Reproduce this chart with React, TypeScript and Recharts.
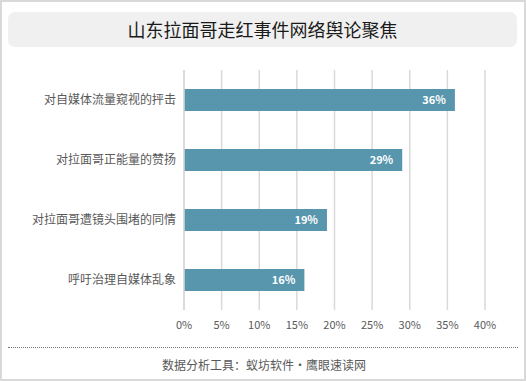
import { BarChart, Bar, XAxis, YAxis, CartesianGrid, LabelList } from 'recharts';

const categories = ['对自媒体流量窥视的抨击', '对拉面哥正能量的赞扬', '对拉面哥遭镜头围堵的同情', '呼吁治理自媒体乱象'];
const shares = [36, 29, 19, 16];
const xTicks = [0, 5, 10, 15, 20, 25, 30, 35, 40];

const FONT = '"Noto Sans CJK SC", "Noto Sans", sans-serif';
const BAR_COLOR = '#5896ad';
const GRID = '#d9d9d9';

const data = categories.map((name, i) => ({ name, value: shares[i] }));

export default function App() {
  return (
    <div
      style={{
        position: 'absolute',
        left: 0,
        top: 0,
        width: 526,
        height: 381,
        boxSizing: 'border-box',
        border: `2px solid ${GRID}`,
        background: '#fff',
        fontFamily: FONT,
      }}
    >
      <div
        style={{
          position: 'absolute',
          left: 6,
          top: 10,
          width: 509,
          height: 35,
          borderRadius: 7,
          background: '#f0f0f0',
          color: '#1a1a1a',
          fontSize: 18,
          lineHeight: '35px',
          textAlign: 'center',
        }}
      >
        山东拉面哥走红事件网络舆论聚焦
      </div>
      <div style={{ position: 'absolute', left: -2, top: -2 }}>
        <BarChart
          width={526}
          height={381}
          data={data}
          layout="vertical"
          margin={{ top: 70, right: 41, bottom: 41, left: 4 }}
          barSize={22}
        >
          <CartesianGrid horizontal={false} stroke={GRID} strokeWidth={1.5} />
          <XAxis
            type="number"
            domain={[0, 40]}
            ticks={xTicks}
            tickFormatter={(v) => `${v}%`}
            axisLine={false}
            tickLine={false}
            tickMargin={5}
            height={30}
            tick={{ fontSize: 11, fill: '#595959', fontFamily: FONT }}
          />
          <YAxis
            type="category"
            dataKey="name"
            width={180}
            axisLine={{ stroke: GRID, strokeWidth: 1.5 }}
            tickLine={false}
            tick={{ fontSize: 12, fill: '#595959', fontFamily: FONT }}
          />
          <Bar dataKey="value" fill={BAR_COLOR} isAnimationActive={false}>
            <LabelList
              dataKey="value"
              position="insideRight"
              offset={9}
              formatter={(v: number) => `${v}%`}
              style={{ fill: '#fff', fontSize: 11, fontWeight: 'bold', fontFamily: FONT }}
            />
          </Bar>
        </BarChart>
      </div>
      <div
        style={{
          position: 'absolute',
          left: 6,
          top: 345,
          width: 510,
          borderTop: '1.5px dotted #777',
        }}
      />
      <div
        style={{
          position: 'absolute',
          left: 160,
          top: 353,
          fontSize: 12,
          lineHeight: '20px',
          color: '#595959',
        }}
      >
        数据分析工具：蚁坊软件·鹰眼速读网
      </div>
    </div>
  );
}
